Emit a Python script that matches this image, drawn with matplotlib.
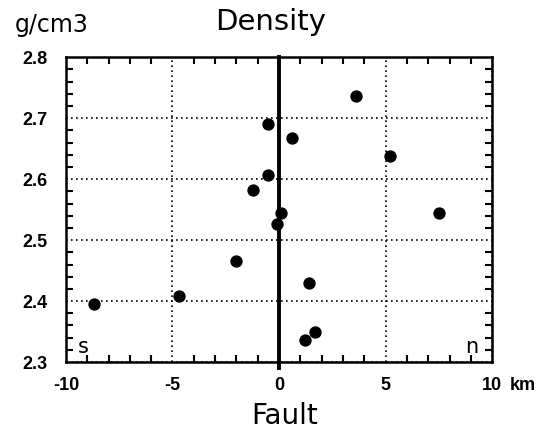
import matplotlib
matplotlib.use('Agg')
import matplotlib.pyplot as plt
from matplotlib.ticker import MultipleLocator

# distance from fault (km) and density (g/cm3)
distance = [-8.7, -4.7, -2.0, 1.4, 1.2, 1.7, 3.6, -0.5, 0.6, 5.2, -0.5, -1.2, 0.1, -0.1, 7.5]
density = [2.396, 2.409, 2.465, 2.430, 2.336, 2.349, 2.736, 2.690, 2.668, 2.638, 2.607, 2.582, 2.545, 2.526, 2.545]

x_ticks = [-10, -5, 0, 5, 10]
x_labels = ['-10', '-5', '0', '5', '10']
y_ticks = [2.3, 2.4, 2.5, 2.6, 2.7, 2.8]

plt.rcParams['font.family'] = ['DejaVu Sans']
fig = plt.figure(figsize=(5.45, 4.30), dpi=100)
ax = fig.add_axes([0.121, 0.158, 0.782, 0.709])

tick_font = dict(family='Liberation Sans', fontweight='bold', fontsize=13)

ax.set_xlim(-10, 10)
ax.set_ylim(2.3, 2.8)
ax.set_xticks(x_ticks)
ax.set_xticklabels(x_labels, **tick_font)
ax.set_yticks(y_ticks)
ax.set_yticklabels([f'{v:.1f}' for v in y_ticks], **tick_font)
ax.xaxis.set_minor_locator(MultipleLocator(1))
ax.yaxis.set_minor_locator(MultipleLocator(0.02))
ax.tick_params(which='both', direction='in', top=True, right=True, width=1.5)
ax.tick_params(which='major', length=0)
ax.tick_params(axis='x', which='major', pad=11)
ax.tick_params(axis='y', which='major', pad=13)
ax.tick_params(which='minor', length=5)
for s in ax.spines.values():
    s.set_linewidth(1.8)

ax.grid(True, which='major', linestyle=(0, (1, 2)), color='black', linewidth=1.2)
ax.axvline(0, ymin=-0.02, ymax=1, color='black', linewidth=2.8, clip_on=False, zorder=3)

ax.scatter(distance, density, s=62, color='black', zorder=4)

ax.text(-9.45, 2.315, 's', fontsize=15)
ax.text(9.35, 2.315, 'n', fontsize=15, ha='right')

fig.text(0.0275, 0.925, 'g/cm3', fontsize=17, va='baseline')
fig.text(0.497, 0.93, 'Density', fontsize=21, ha='center', va='baseline')
fig.text(0.936, 0.094, 'km', va='baseline', **tick_font)
fig.text(0.523, 0.014, 'Fault', fontsize=20, ha='center', va='baseline')

fig.savefig('out.png', dpi=100)
